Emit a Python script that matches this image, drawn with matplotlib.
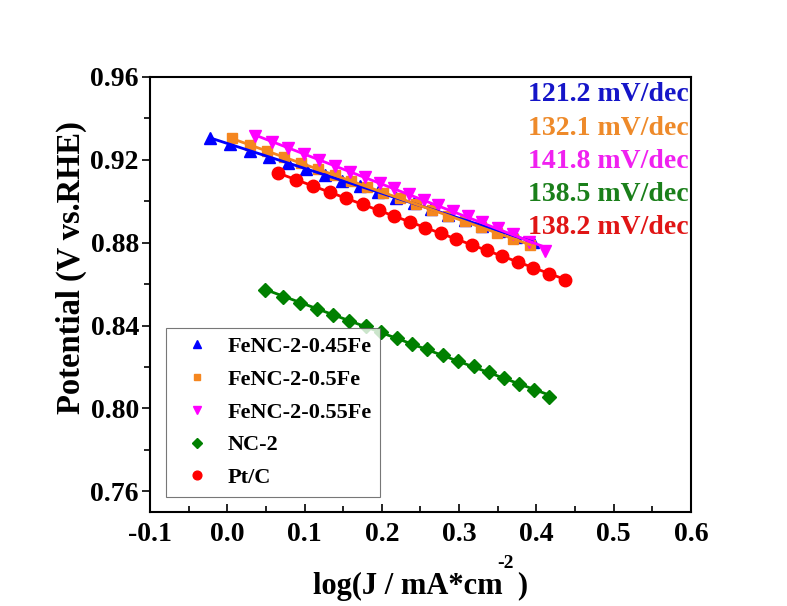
import numpy as np
import matplotlib
matplotlib.use('Agg')
from matplotlib import pyplot as plt
from matplotlib.ticker import MultipleLocator

plt.rcParams['font.family'] = 'Liberation Serif'
plt.rcParams['font.weight'] = 'bold'

# data
blue_x = [-0.022, 0.004, 0.029, 0.054, 0.078, 0.102, 0.126, 0.149, 0.172, 0.195,
          0.218, 0.241, 0.263, 0.285, 0.307, 0.329, 0.351, 0.373, 0.395]
blue_y = [0.9305, 0.9275, 0.9245, 0.9215, 0.9185, 0.9155, 0.9128, 0.9100, 0.9072, 0.9045,
          0.9017, 0.8990, 0.8962, 0.8936, 0.8910, 0.8883, 0.8857, 0.8830, 0.8805]

orange_x = [0.006, 0.029, 0.051, 0.073, 0.095, 0.117, 0.139, 0.160, 0.181, 0.202,
            0.223, 0.244, 0.265, 0.286, 0.307, 0.328, 0.349, 0.370, 0.392]
orange_y = [0.9303, 0.9272, 0.9243, 0.9213, 0.9184, 0.9155, 0.9126, 0.9098, 0.9070, 0.9042,
            0.9015, 0.8987, 0.8959, 0.8931, 0.8903, 0.8875, 0.8847, 0.8818, 0.8789]

magenta_x = [0.036, 0.058, 0.079, 0.099, 0.119, 0.139, 0.159, 0.178, 0.197, 0.216,
             0.235, 0.254, 0.273, 0.292, 0.311, 0.330, 0.350, 0.370, 0.390, 0.411]
magenta_y = [0.9315, 0.9285, 0.9255, 0.9227, 0.9199, 0.9171, 0.9143, 0.9116, 0.9089, 0.9062,
             0.9035, 0.9008, 0.8981, 0.8954, 0.8927, 0.8900, 0.8870, 0.8840, 0.8805, 0.8760]

green_x = [0.049, 0.072, 0.094, 0.116, 0.137, 0.158, 0.179, 0.199, 0.219, 0.239,
           0.259, 0.279, 0.299, 0.319, 0.338, 0.358, 0.378, 0.397, 0.416]
green_y = [0.8570, 0.8540, 0.8510, 0.8481, 0.8452, 0.8424, 0.8396, 0.8368, 0.8340, 0.8313,
           0.8286, 0.8258, 0.8231, 0.8203, 0.8176, 0.8148, 0.8119, 0.8088, 0.8055]

red_x = [0.066, 0.089, 0.111, 0.133, 0.154, 0.175, 0.196, 0.216, 0.236, 0.256,
         0.276, 0.296, 0.316, 0.336, 0.356, 0.376, 0.396, 0.416, 0.437]
red_y = [0.9136, 0.9103, 0.9073, 0.9043, 0.9014, 0.8985, 0.8957, 0.8929, 0.8901, 0.8873,
         0.8846, 0.8818, 0.8791, 0.8763, 0.8736, 0.8708, 0.8680, 0.8651, 0.8620]

labels = ['FeNC-2-0.45Fe', 'FeNC-2-0.5Fe', 'FeNC-2-0.55Fe', 'NC-2', 'Pt/C']
slopes = ['121.2 mV/dec', '132.1 mV/dec', '141.8 mV/dec', '138.5 mV/dec', '138.2 mV/dec']
colors = ['#0000FF', '#F5861F', '#FF00FF', '#008000', '#FF0000']
text_colors = ['#1515C8', '#EE8A2A', '#F020F0', '#1A7F1A', '#E01515']
markers = ['^', 's', 'v', 'D', 'o']
msizes = [9, 7, 9, 7.5, 9]

series = [(blue_x, blue_y), (orange_x, orange_y), (magenta_x, magenta_y),
          (green_x, green_y), (red_x, red_y)]

fig = plt.figure(figsize=(7.87, 6.06), dpi=100)
ax = fig.add_axes([0.1906, 0.155, 0.878 - 0.1906, 0.873 - 0.155])

for (x, y), lab, c, m, ms in zip(series, labels, colors, markers, msizes):
    x = np.array(x)
    y = np.array(y)
    ax.plot(x, y, ls='none', marker=m, ms=ms, color=c, label=lab, zorder=3)
    k, b = np.polyfit(x, y, 1)
    ax.plot([x[0], x[-1]], [k * x[0] + b, k * x[-1] + b], color=c, lw=2, zorder=4)

ax.set_xlim(-0.1, 0.6)
ax.set_ylim(0.75, 0.96)
ax.xaxis.set_minor_locator(MultipleLocator(0.05))
ax.yaxis.set_minor_locator(MultipleLocator(0.02))
ax.set_yticks([0.76, 0.80, 0.84, 0.88, 0.92, 0.96])
ax.set_xticks([-0.1, 0.0, 0.1, 0.2, 0.3, 0.4, 0.5, 0.6])
ax.set_xticklabels(['-0.1', '0.0', '0.1', '0.2', '0.3', '0.4', '0.5', '0.6'])
ax.tick_params(axis='x', which='both', direction='in', labelsize=20, pad=7)
ax.tick_params(axis='y', which='both', direction='out', labelsize=20, pad=2)
ax.tick_params(which='major', length=6, width=1.2)
ax.tick_params(which='minor', length=4, width=1.2)
for s in ax.spines.values():
    s.set_linewidth(1.5)

ax.set_ylabel('Potential (V vs.RHE)', fontsize=23.5, fontweight='bold')
ax.yaxis.set_label_coords(-0.117, 0.563)
ax.set_xlabel('log(J / mA*cm  )', fontsize=22, fontweight='bold', labelpad=18)
fig.text(506 / 787, 1 - 564 / 606, '-2', fontsize=14, fontweight='bold',
         ha='center', va='center')

for i, (t, c) in enumerate(zip(slopes, text_colors)):
    ax.text(0.995, 0.9586 - i * 0.0759, t, transform=ax.transAxes, ha='right', va='center',
            fontsize=20, fontweight='bold', color=c)

leg = ax.legend(loc='lower left', bbox_to_anchor=(0.0296, 0.0345), fontsize=16,
                frameon=True, fancybox=False, edgecolor='#555555',
                handletextpad=0.36, labelspacing=0.55, borderpad=0.4,
                handlelength=2.0, markerscale=0.7, borderaxespad=0)
leg.get_frame().set_linewidth(0.8)

fig.savefig('out.png', dpi=100)
